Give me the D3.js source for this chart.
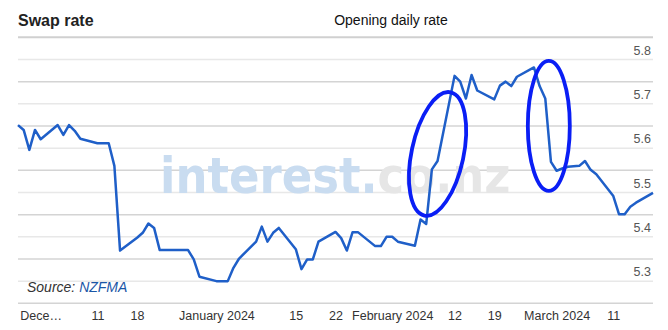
<!DOCTYPE html>
<html>
<head>
<meta charset="utf-8">
<script src="https://cdn.jsdelivr.net/npm/d3@7"></script>
<style>
  body { margin: 0; background: #fff; }
  svg { display: block; font-family: "Liberation Sans", Arial, sans-serif; }
</style>
</head>
<body>
<div id="chart"></div>
<script>
// opening daily swap rate
const dates = [
  "2023-11-27","2023-11-28","2023-11-29","2023-11-30","2023-12-01",
  "2023-12-04","2023-12-05","2023-12-06","2023-12-07","2023-12-08",
  "2023-12-11","2023-12-12","2023-12-13","2023-12-14","2023-12-15",
  "2023-12-18","2023-12-19","2023-12-20","2023-12-21","2023-12-22",
  "2023-12-27","2023-12-28","2023-12-29",
  "2024-01-01","2024-01-02","2024-01-03","2024-01-04","2024-01-05",
  "2024-01-08","2024-01-09","2024-01-10","2024-01-11","2024-01-12",
  "2024-01-15","2024-01-16","2024-01-17","2024-01-18","2024-01-19",
  "2024-01-22","2024-01-23","2024-01-24","2024-01-25","2024-01-26",
  "2024-01-29","2024-01-30","2024-01-31","2024-02-01","2024-02-02",
  "2024-02-05","2024-02-06","2024-02-07","2024-02-08","2024-02-09",
  "2024-02-12","2024-02-13","2024-02-14","2024-02-15","2024-02-16",
  "2024-02-19","2024-02-20","2024-02-21","2024-02-22","2024-02-23",
  "2024-02-26","2024-02-27","2024-02-28","2024-02-29","2024-03-01",
  "2024-03-02","2024-03-03","2024-03-04","2024-03-05","2024-03-06","2024-03-07","2024-03-08",
  "2024-03-11","2024-03-12","2024-03-13","2024-03-14","2024-03-15",
  "2024-03-18"
];
const rates = [
  5.602, 5.591, 5.546, 5.591, 5.570,
  5.602, 5.580, 5.602, 5.589, 5.571,
  5.561, 5.561, 5.561, 5.510, 5.319,
  5.348, 5.359, 5.380, 5.370, 5.320,
  5.320, 5.299, 5.260,
  5.250, 5.250, 5.250, 5.280, 5.301,
  5.339, 5.373, 5.339, 5.359, 5.370,
  5.322, 5.277, 5.299, 5.299, 5.339,
  5.361, 5.347, 5.319, 5.360, 5.360,
  5.329, 5.329, 5.350, 5.350, 5.339,
  5.330, 5.389, 5.379, 5.502, 5.521,
  5.713, 5.700, 5.662, 5.715, 5.680,
  5.660, 5.691, 5.700, 5.690, 5.711,
  5.732, 5.690, 5.662, 5.519, 5.499,
  5.504, 5.508, 5.509, 5.510, 5.521, 5.501, 5.491,
  5.442, 5.401, 5.401, 5.418, 5.427,
  5.449
];

const xTickDates = ["2023-12-01","2023-12-11","2023-12-18","2024-01-01","2024-01-15","2024-01-22",
                    "2024-02-01","2024-02-12","2024-02-19","2024-03-01","2024-03-11"];
const xTickLabels = ["Dece\u2026","11","18","January 2024","15","22",
                     "February 2024","12","19","March 2024","11"];
const yLabelTicks = [5.8, 5.7, 5.6, 5.5, 5.4, 5.3];
const yMajorGrid = [5.8, 5.7, 5.6, 5.5, 5.4, 5.3, 5.2];
const yMinorGrid = [5.75, 5.65, 5.55, 5.45, 5.35, 5.25];

// hand-drawn circles on the picture: centre date, centre rate
const markDates = ["2024-02-09T00:00:00Z", "2024-02-28T15:00:00Z"];
const markRates = [5.537, 5.600];

const width = 668, height = 330;
const plotLeft = 18, plotRight = 653, plotTop = 37.3, plotBottom = 303.3;

const parse = s => new Date(s.length > 10 ? s : s + "T00:00:00Z");
const data = dates.map((d, i) => ({ date: parse(d), rate: rates[i] }));

const x = d3.scaleUtc()
  .domain([parse("2023-11-27"), parse("2024-03-18")])
  .range([plotLeft, plotRight]);
const y = d3.scaleLinear().domain([5.2, 5.8]).range([plotBottom, plotTop]);

const svg = d3.select("#chart").append("svg")
  .attr("width", width).attr("height", height);

// titles
svg.append("text").attr("x", 18).attr("y", 26)
  .attr("font-size", 16).attr("font-weight", "bold").attr("fill", "#222")
  .text("Swap rate");
svg.append("text").attr("x", 391).attr("y", 25).attr("text-anchor", "middle")
  .attr("font-size", 14).attr("fill", "#111")
  .text("Opening daily rate");

// grid
svg.append("g").selectAll("line").data(yMinorGrid).join("line")
  .attr("x1", plotLeft).attr("x2", plotRight)
  .attr("y1", d => y(d)).attr("y2", d => y(d))
  .attr("stroke", "#e8e8e8").attr("stroke-width", 1.5);
svg.append("g").selectAll("line").data(yMajorGrid).join("line")
  .attr("x1", plotLeft).attr("x2", plotRight)
  .attr("y1", d => y(d)).attr("y2", d => y(d))
  .attr("stroke", d => d === 5.8 ? "#d0d0d0" : "#d4d4d4")
  .attr("stroke-width", d => d === 5.8 ? 2 : 1.5);

// watermark
const wm = svg.append("text").attr("x", 160).attr("y", 193)
  .attr("font-family", "'DejaVu Sans Condensed', 'DejaVu Sans', sans-serif")
  .attr("font-stretch", "condensed").attr("font-weight", "bold")
  .attr("font-size", 50);
wm.append("tspan").attr("fill", "#c9dcf0").text("interest.");
wm.append("tspan").attr("fill", "#e6e6e6").text("co.nz");

// y labels, drawn inside the plot under their grid line
const yAxis = svg.append("g")
  .attr("transform", `translate(${plotRight - 2},13)`)
  .call(d3.axisLeft(y).tickValues(yLabelTicks).tickSize(0).tickPadding(0).tickFormat(d3.format(".1f")));
yAxis.select(".domain").remove();
yAxis.selectAll("text").attr("font-size", 12.5).attr("fill", "#555")
  .attr("font-family", "Liberation Sans, Arial, sans-serif");

// x labels
const xAxis = svg.append("g")
  .attr("transform", `translate(0,${plotBottom + 8})`)
  .call(d3.axisBottom(x).tickValues(xTickDates.map(parse)).tickSize(0).tickPadding(0)
    .tickFormat((d, i) => xTickLabels[i]));
xAxis.select(".domain").remove();
xAxis.selectAll("text").attr("font-size", 12.5).attr("fill", "#333")
  .attr("font-family", "Liberation Sans, Arial, sans-serif");

// line
const line = d3.line().x(d => x(d.date)).y(d => y(d.rate));
svg.append("path").datum(data)
  .attr("d", line).attr("fill", "none")
  .attr("stroke", "#1f5fc8").attr("stroke-width", 2.5)
  .attr("stroke-linejoin", "round");

// hand-drawn ellipses
const radii = [[26, 63, 12], [21, 65, 0]];
svg.append("g").selectAll("ellipse").data(markDates).join("ellipse")
  .attr("transform", (d, i) => `translate(${x(parse(d))},${y(markRates[i])}) rotate(${radii[i][2]})`)
  .attr("rx", (d, i) => radii[i][0]).attr("ry", (d, i) => radii[i][1])
  .attr("fill", "none").attr("stroke", "#0a1ef5").attr("stroke-width", 3.8);

// source
const src = svg.append("text").attr("x", 27).attr("y", 292)
  .attr("font-size", 14).attr("font-style", "italic");
src.append("tspan").attr("fill", "#333").text("Source: ");
src.append("tspan").attr("fill", "#1a56a6").text("NZFMA");
</script>
</body>
</html>
